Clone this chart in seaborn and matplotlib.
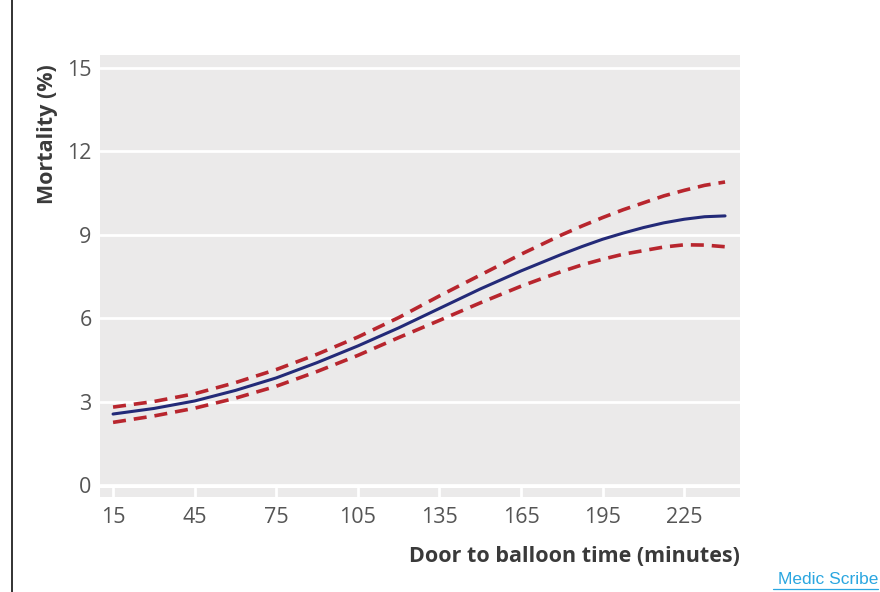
import numpy as np
import pandas as pd
import matplotlib
matplotlib.use("Agg")
import matplotlib.pyplot as plt
import seaborn as sns

# ---- data ----
minutes = [15, 30, 45, 60, 75, 90, 105, 120, 135, 150, 165, 172.5, 180, 187.5,
           195, 202.5, 210, 217.5, 225, 232.5, 240]
mortality = [2.55, 2.75, 3.02, 3.40, 3.85, 4.40, 5.00, 5.65, 6.35, 7.05, 7.70, 8.00, 8.30, 8.58,
             8.84, 9.06, 9.26, 9.43, 9.56, 9.65, 9.68]
upper_ci = [2.80, 3.00, 3.28, 3.68, 4.15, 4.70, 5.32, 6.02, 6.80, 7.55, 8.30, 8.65, 9.00, 9.32,
            9.62, 9.90, 10.15, 10.40, 10.60, 10.78, 10.90]
lower_ci = [2.25, 2.48, 2.76, 3.12, 3.55, 4.08, 4.66, 5.30, 5.92, 6.55, 7.15, 7.42, 7.68, 7.92,
            8.12, 8.30, 8.43, 8.56, 8.64, 8.63, 8.57]
x_ticks = [15, 45, 75, 105, 135, 165, 195, 225]
y_ticks = [0, 3, 6, 9, 12, 15]

sns.set_theme(style="white")
plt.rcParams['font.family'] = ['Open Sans', 'DejaVu Sans']

W, H = 880, 592
fig = plt.figure(figsize=(W / 100, H / 100), dpi=100)

def fx(px):
    return px / W

def fy(py):
    return 1 - py / H

bg = "#ebeaea"
ax = fig.add_axes([fx(100), fy(486), fx(740) - fx(100), fy(55) - fy(486)])
ax.set_facecolor(bg)

df = pd.DataFrame({"minutes": minutes, "mortality": mortality,
                   "upper": upper_ci, "lower": lower_ci})

sns.lineplot(data=df, x="minutes", y="upper", ax=ax, color="#b8262e",
             lw=2.6, zorder=3).lines[-1].set_dashes((3.6, 2.2))
sns.lineplot(data=df, x="minutes", y="lower", ax=ax, color="#b8262e",
             lw=2.6, zorder=3).lines[-1].set_dashes((3.6, 2.2))
sns.lineplot(data=df, x="minutes", y="mortality", ax=ax, color="#232a78",
             lw=2.2, zorder=4)
for ln in ax.lines:
    ln.set_solid_joinstyle("round")
    ln.set_dash_joinstyle("round")

ax.set_xlim(10.2, 245.5)
ax.set_ylim(-0.04, 15.47)
ax.set_yticks(y_ticks)
ax.set_yticklabels([str(v) for v in y_ticks], fontsize=15.5, color="#555555")
ax.set_xticks([])
ax.tick_params(axis="y", length=0, pad=6)
ax.yaxis.grid(True, color="white", lw=2)
ax.xaxis.grid(False)
ax.set_axisbelow(True)
for s in ax.spines.values():
    s.set_visible(False)
ax.set_xlabel("")
ax.set_ylabel("")

# x-axis strip below the plot
ax2 = fig.add_axes([fx(100), fy(497), fx(740) - fx(100), fy(488) - fy(497)])
ax2.set_facecolor(bg)
ax2.set_xlim(ax.get_xlim())
ax2.set_ylim(0, 1)
ax2.set_yticks([])
ax2.set_xticks(x_ticks)
ax2.set_xticklabels([str(v) for v in x_ticks], fontsize=15.5, color="#555555")
ax2.tick_params(axis="x", length=0, pad=7)
for t in x_ticks:
    ax2.axvline(t, color="white", lw=2)
for s in ax2.spines.values():
    s.set_visible(False)

fig.text(fx(740), fy(556), "Door to balloon time (minutes)", ha="right", va="center",
         fontsize=15.5, fontweight="bold", color="#3a3a3a")
fig.text(fx(47), fy(134), "Mortality (%)", ha="center", va="center", rotation=90,
         fontsize=15.5, fontweight="bold", color="#3a3a3a")

# left border line
fig.add_artist(plt.Line2D([fx(12), fx(12)], [0, 1], color="#222222", lw=1.3))

fig.text(fx(878), fy(580), "Medic Scribe", ha="right", va="center",
         fontsize=12.5, color="#2aa6e0", family=["Liberation Sans", "DejaVu Sans"])
fig.add_artist(plt.Line2D([fx(773), fx(878)], [fy(589), fy(589)], color="#2aa6e0", lw=0.9))

fig.savefig("out.png", dpi=100, facecolor="white")
